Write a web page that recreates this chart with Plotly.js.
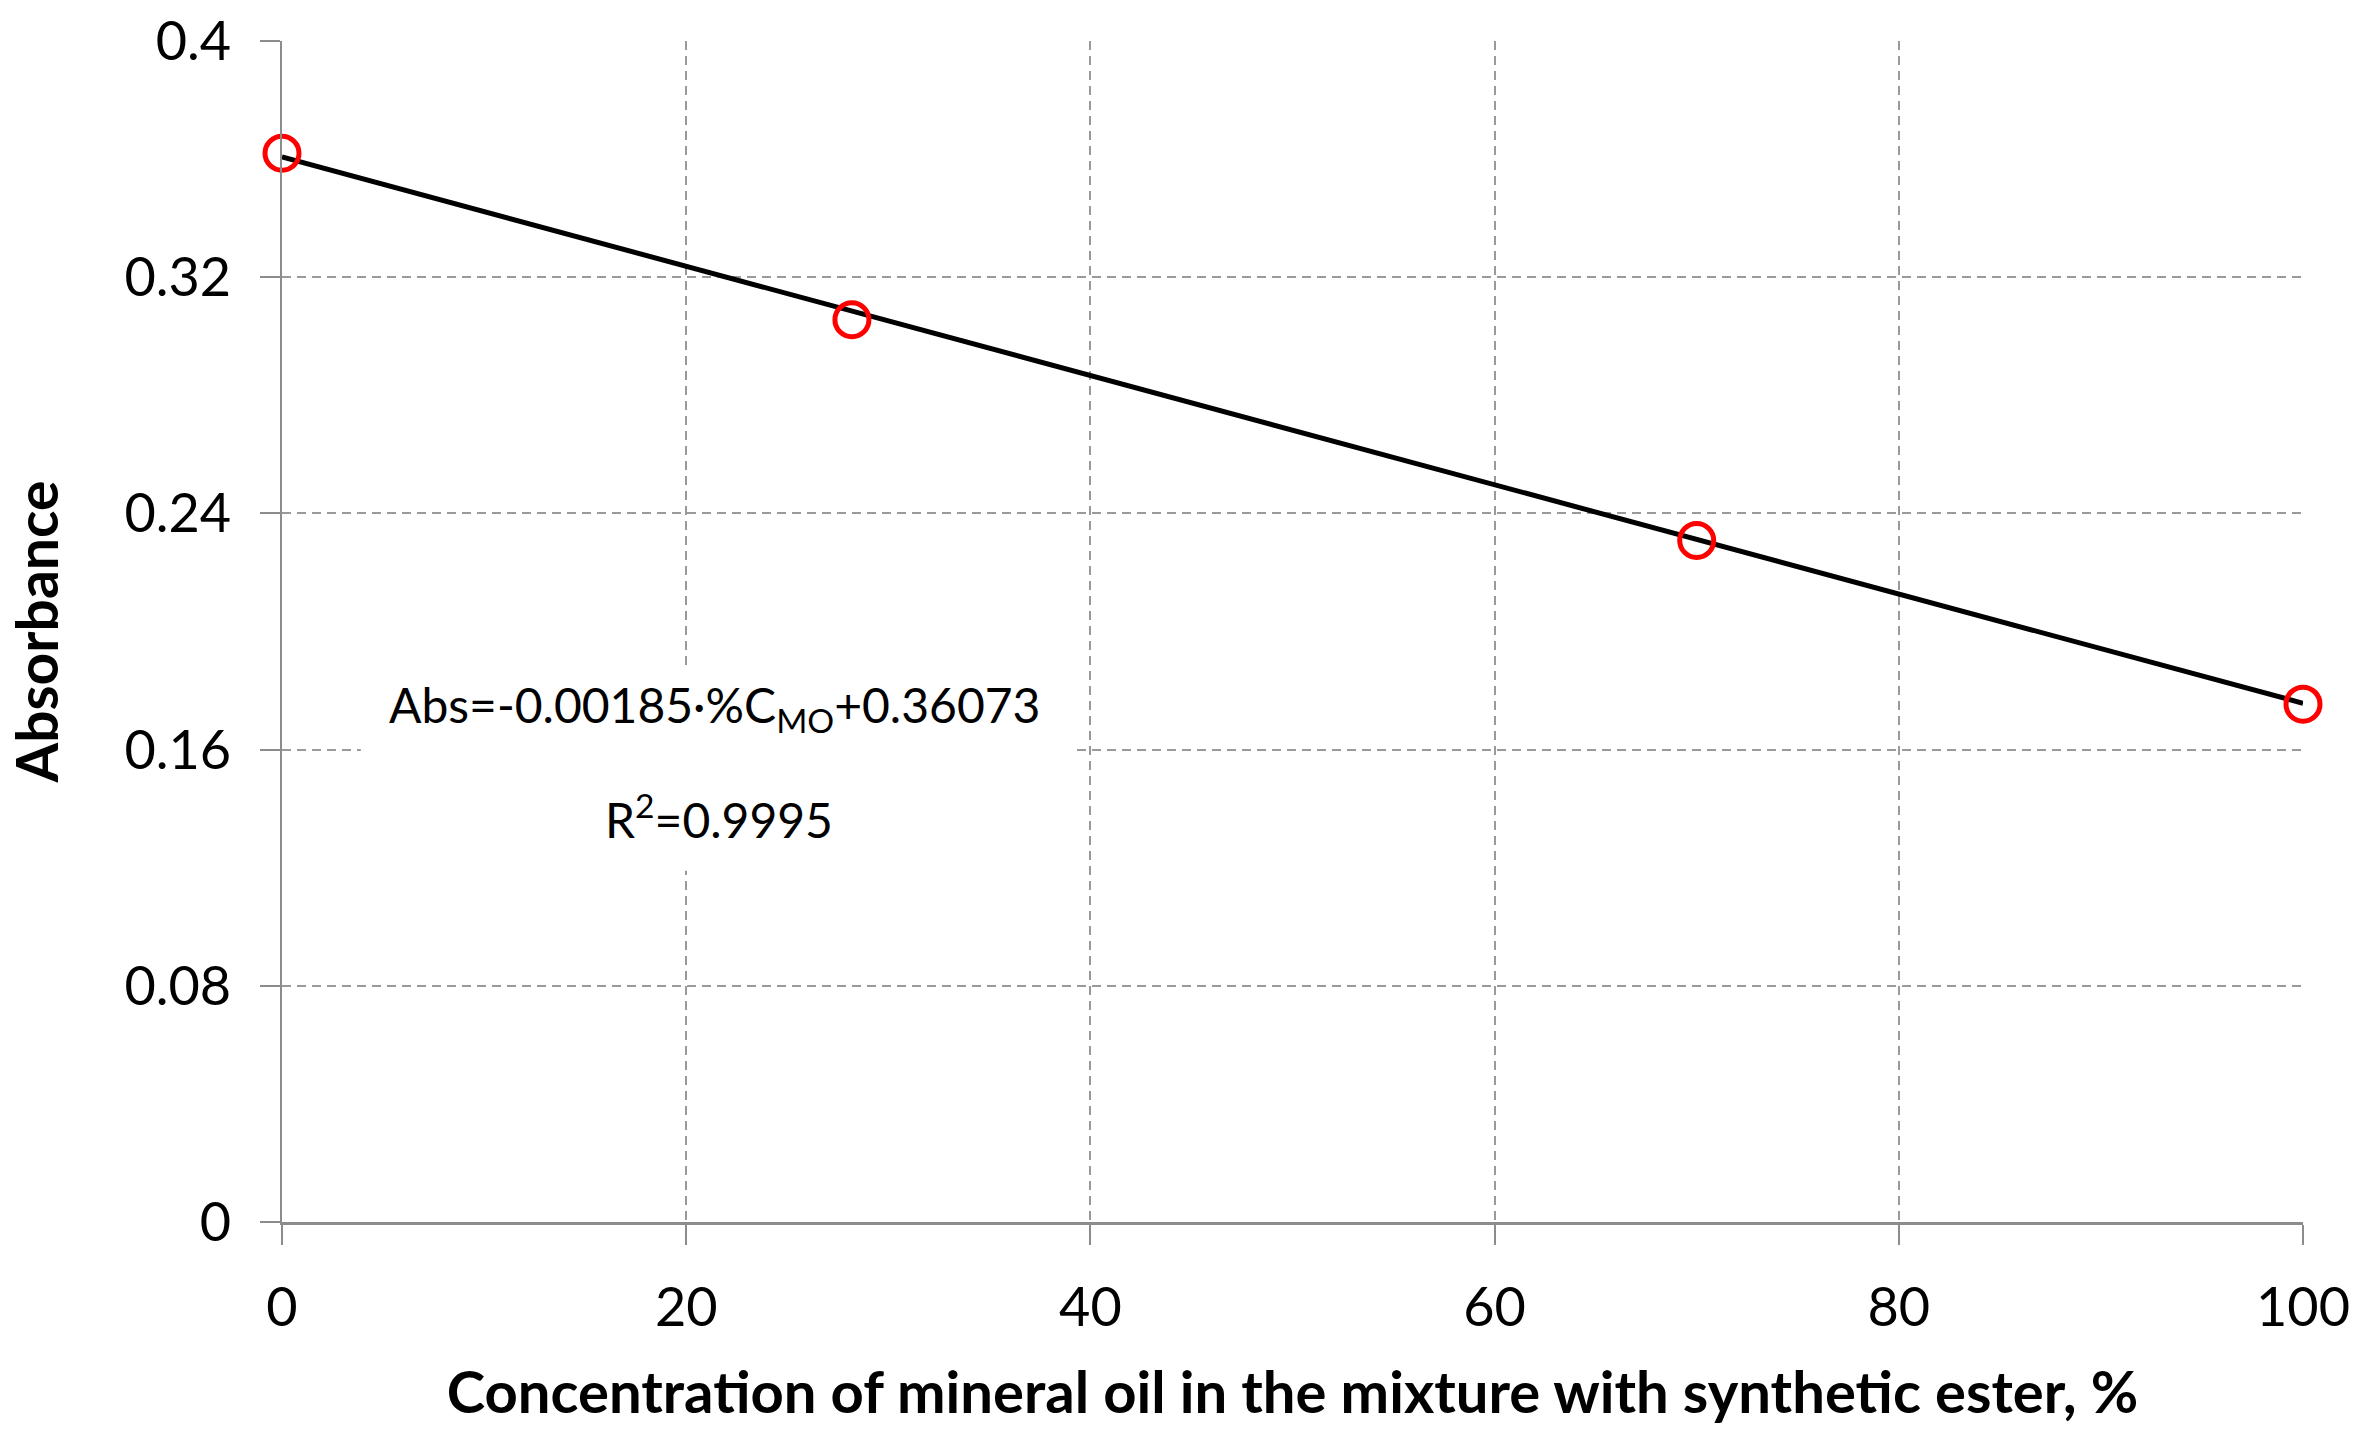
<!DOCTYPE html>
<html>
<head>
<meta charset="utf-8">
<script src="https://cdn.plot.ly/plotly-3.0.1.min.js"></script>
<style>
  html, body { margin: 0; padding: 0; background: #fff; }
  #plot { width: 2374px; height: 1444px; }
</style>
</head>
<body>
<div id="plot"></div>
<script>
// measured points
const concMO = [0, 28.2, 70, 100];
const absorbance = [0.362, 0.3056, 0.2308, 0.1754];

// linear fit, read at the ends of the range
const fitX = [0, 100];
const fitY = [0.3607, 0.1757];

const yTicks = [0, 0.08, 0.16, 0.24, 0.32, 0.4];
const yTickText = ["0", "0.08", "0.16", "0.24", "0.32", "0.4"];
const xTicks = [0, 20, 40, 60, 80, 100];

const FONT = "Lato, 'Open Sans', sans-serif";

const fitTrace = {
  x: fitX,
  y: fitY,
  type: "scatter",
  mode: "lines",
  line: { color: "#000", width: 5 },
  hoverinfo: "skip",
};

const pointTrace = {
  x: concMO,
  y: absorbance,
  type: "scatter",
  mode: "markers",
  marker: {
    symbol: "circle-open",
    size: 34,
    color: "#ff0000",
    line: { color: "#ff0000", width: 5 },
  },
  cliponaxis: false,
};

const gridStyle = {
  showgrid: true,
  gridcolor: "#9a9a9a",
  gridwidth: 2,
  griddash: "9px,6px",
  showline: true,
  linecolor: "#8c8c8c",
  linewidth: 2,
  ticks: "outside",
  ticklen: 20,
  tickwidth: 2,
  tickcolor: "#8c8c8c",
  zeroline: false,
  tickfont: { family: FONT, size: 54, color: "#000" },
};

const layout = {
  width: 2374,
  height: 1444,
  margin: { l: 282, r: 71, t: 41, b: 222 },
  paper_bgcolor: "#fff",
  plot_bgcolor: "#fff",
  showlegend: false,
  font: { family: FONT, color: "#000" },
  xaxis: Object.assign({}, gridStyle, {
    range: [0, 100],
    tickmode: "array",
    tickvals: xTicks,
    ticktext: xTicks.map(String),
    ticklabelstandoff: 16,
    linewidth: 3,
    title: {
      text: "Concentration of mineral oil in the mixture with synthetic ester, %",
      font: { family: FONT, size: 58, weight: "bold", color: "#000" },
      standoff: 36,
    },
  }),
  yaxis: Object.assign({}, gridStyle, {
    range: [0, 0.4],
    tickmode: "array",
    tickvals: yTicks,
    ticktext: yTickText,
    ticklabelstandoff: 18,
    title: {
      text: "Absorbance",
      font: { family: FONT, size: 57, weight: "bold", color: "#000" },
      standoff: 48,
    },
  }),
  shapes: [
    {
      type: "rect",
      xref: "x", yref: "y",
      x0: 3.9, x1: 39.1, y0: 0.119, y1: 0.188,
      fillcolor: "#fff",
      line: { width: 0 },
      layer: "between",
    },
  ],
  annotations: [
    {
      x: 21.4, y: 0.1741, xref: "x", yref: "y",
      text: "Abs=-0.00185·%C<sub>MO</sub>+0.36073",
      showarrow: false,
      font: { family: FONT, size: 48, color: "#000" },
    },
    {
      x: 21.6, y: 0.1375, xref: "x", yref: "y",
      text: "R<sup>2</sup>=0.9995",
      showarrow: false,
      font: { family: FONT, size: 48, color: "#000" },
    },
  ],
};

Plotly.newPlot("plot", [fitTrace, pointTrace], layout, { staticPlot: true });
</script>
</body>
</html>
